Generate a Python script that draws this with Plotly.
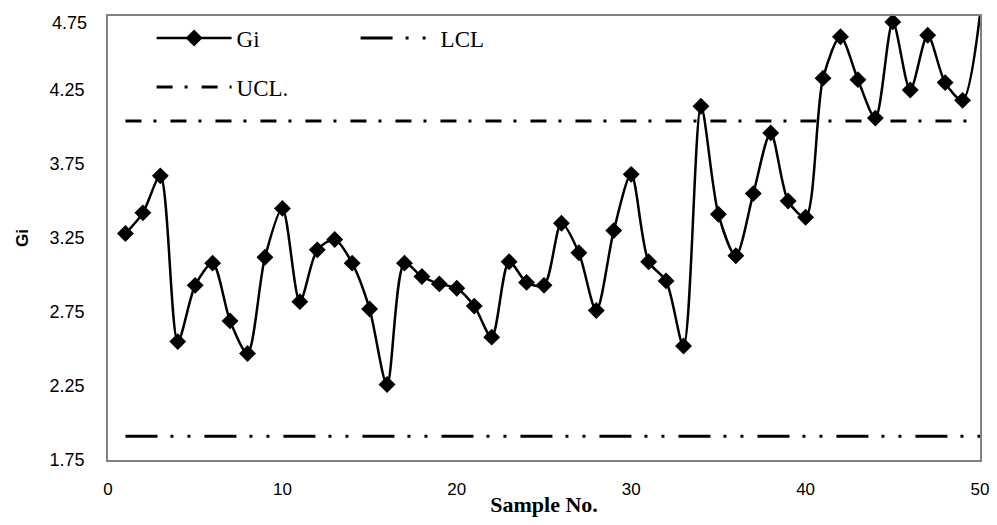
import plotly.graph_objects as go

samples = list(range(1, 51))
gi = [3.28, 3.42, 3.67, 2.55, 2.93, 3.08, 2.69, 2.47, 3.12, 3.45,
      2.82, 3.17, 3.24, 3.08, 2.77, 2.26, 3.08, 2.99, 2.94, 2.91,
      2.79, 2.58, 3.09, 2.95, 2.93, 3.35, 3.15, 2.76, 3.30, 3.68,
      3.09, 2.96, 2.52, 4.14, 3.41, 3.13, 3.55, 3.96, 3.50, 3.39,
      4.33, 4.61, 4.32, 4.06, 4.71, 4.25, 4.62, 4.30, 4.18, 4.76]
ucl_value = 4.04
lcl_value = 1.91
ucl = [ucl_value] * len(samples)
lcl = [lcl_value] * len(samples)
x_ticks = [0, 10, 20, 30, 40, 50]
y_ticks = [1.75, 2.25, 2.75, 3.25, 3.75, 4.25, 4.75]
y_top = y_ticks[-1]

serif = "Liberation Serif, Times New Roman, serif"
sans = "Liberation Sans, Arial, sans-serif"

fig = go.Figure()
fig.add_trace(go.Scatter(
    x=samples, y=gi, name="Gi", mode="lines+markers", legend="legend",
    line=dict(color="black", width=2.5, shape="spline", smoothing=0.8),
    marker=dict(symbol="diamond", size=13, color="black"),
    cliponaxis=False))
fig.add_trace(go.Scatter(
    x=samples, y=lcl, name="LCL", mode="lines", legend="legend",
    line=dict(color="black", width=3, dash="32px,13px,3px,14px,3px,14px")))
fig.add_trace(go.Scatter(
    x=samples, y=ucl, name="UCL.", mode="lines", legend="legend2",
    line=dict(color="black", width=3, dash="16px,12px,3px,14px")))

legend_common = dict(orientation="h", xanchor="left", yanchor="middle",
                     itemwidth=75, entrywidth=114,
                     font=dict(family=serif, size=23, color="black"),
                     bgcolor="rgba(0,0,0,0)")
fig.update_layout(
    width=981, height=509,
    margin=dict(l=100, r=9, t=8, b=57, autoexpand=False),
    paper_bgcolor="white", plot_bgcolor="white",
    showlegend=True,
    legend=dict(x=0.05, y=0.9505, **legend_common),
    legend2=dict(x=0.05, y=0.84, **legend_common),
    annotations=[dict(text=f"{y_top:.2f}", xref="paper", x=0, xanchor="right",
                      xshift=-19, yref="y", y=y_top, yanchor="middle", yshift=-7,
                      showarrow=False,
                      font=dict(family=sans, size=18, color="black"))],
)
fig.update_xaxes(
    range=[0, 50], tickvals=x_ticks, showgrid=False, zeroline=False, automargin=False,
    showline=True, linecolor="#808080", linewidth=1.5, mirror=True,
    ticks="outside", ticklen=13, tickcolor="rgba(0,0,0,0)",
    ticklabeloverflow="allow",
    tickfont=dict(family=sans, size=17, color="black"),
    title=dict(text="<b>Sample No.</b>", standoff=11,
               font=dict(family=serif, size=22, color="black")))
fig.update_yaxes(
    range=[1.75, 4.75], tickvals=y_ticks,
    ticktext=[f"{v:.2f}" if v != y_top else "" for v in y_ticks],
    showgrid=False, zeroline=False, automargin=False,
    showline=True, linecolor="#808080", linewidth=1.5, mirror=True,
    ticks="outside", ticklen=18, tickcolor="rgba(0,0,0,0)",
    ticklabeloverflow="allow",
    tickfont=dict(family=sans, size=18, color="black"),
    title=dict(text="<b>Gi</b>", standoff=17,
               font=dict(family=sans, size=17, color="black")))

fig.write_html("out.html")
